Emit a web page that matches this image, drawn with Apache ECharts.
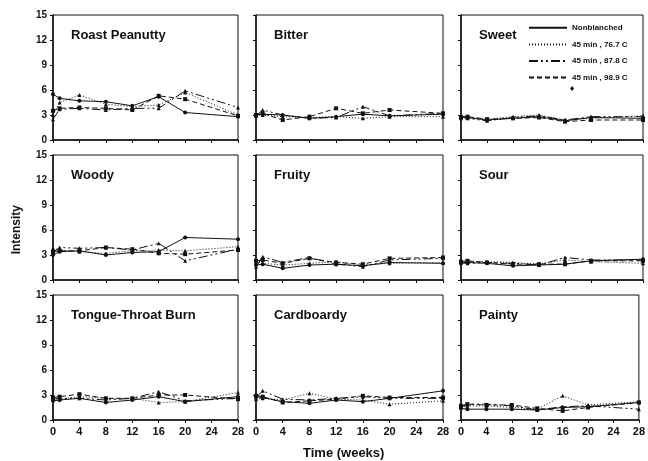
<!DOCTYPE html>
<html>
<head>
<meta charset="utf-8">
<script src="https://cdn.jsdelivr.net/npm/echarts@6/dist/echarts.min.js"></script>
<style>
    html, body { margin: 0; padding: 0; background: #fff; }
    #chart { width: 648px; height: 461px; }
</style>
</head>
<body>
<div id="chart"></div>
<script>
    // sampling times (weeks)
    const weeks = [0, 1, 4, 8, 12, 16, 20, 28];
    const xTicks = [0, 4, 8, 12, 16, 20, 24, 28];
    const yTicks = [0, 3, 6, 9, 12, 15];

    const treatments = ['Nonblanched', '45 min , 76.7 C', '45 min , 87.8 C', '45 min , 98.9 C'];
    const attributes = ['Roast Peanutty', 'Bitter', 'Sweet', 'Woody', 'Fruity', 'Sour',
        'Tongue-Throat Burn', 'Cardboardy', 'Painty'];

    // each: [nonblanched, 76.7 C, 87.8 C, 98.9 C]
    const roastPeanutty = [
        [5.5, 5.0, 4.7, 4.6, 4.1, 5.2, 3.3, 2.8],
        [3.0, 4.5, 5.4, 4.3, 4.0, 4.2, 5.7, 3.0],
        [2.5, 3.7, 3.8, 3.6, 3.8, 3.8, 5.9, 3.9],
        [3.5, 3.8, 3.9, 3.8, 3.6, 5.3, 4.9, 2.9]
    ];
    const bitter = [
        [3.0, 3.1, 3.0, 2.6, 2.8, 3.1, 2.9, 3.1],
        [3.0, 3.0, 2.8, 2.7, 2.8, 2.6, 2.8, 2.8],
        [2.9, 3.6, 3.0, 2.6, 2.7, 4.0, 2.9, 3.2],
        [3.0, 3.2, 2.4, 2.8, 3.8, 3.2, 3.6, 3.2]
    ];
    const sweet = [
        [2.8, 2.7, 2.4, 2.6, 2.8, 2.3, 2.7, 2.6],
        [2.6, 2.7, 2.5, 2.8, 3.0, 2.4, 2.6, 2.9],
        [2.9, 2.6, 2.3, 2.7, 2.9, 2.4, 2.8, 2.8],
        [2.7, 2.8, 2.5, 2.6, 2.7, 2.2, 2.4, 2.4]
    ];
    const woody = [
        [3.0, 3.4, 3.5, 3.0, 3.3, 3.4, 5.1, 4.9],
        [3.8, 3.6, 3.4, 3.2, 3.5, 3.6, 3.5, 4.0],
        [3.3, 3.9, 3.8, 3.9, 3.6, 4.4, 2.3, 3.7],
        [3.4, 3.5, 3.5, 3.9, 3.7, 3.2, 3.1, 3.6]
    ];
    const fruity = [
        [1.8, 1.9, 1.4, 1.8, 1.9, 1.7, 2.1, 2.0],
        [2.2, 2.0, 1.8, 2.0, 2.2, 1.8, 2.0, 2.1],
        [1.6, 2.8, 2.1, 2.7, 1.9, 1.6, 2.4, 2.6],
        [2.3, 2.4, 2.0, 2.6, 2.1, 1.9, 2.6, 2.7]
    ];
    const sour = [
        [2.0, 2.1, 2.0, 1.7, 1.8, 1.9, 2.3, 2.5],
        [2.2, 2.2, 2.2, 2.1, 1.9, 2.4, 2.2, 2.0],
        [2.1, 2.0, 2.1, 2.0, 1.8, 2.7, 2.4, 2.4],
        [2.2, 2.3, 2.1, 1.9, 1.9, 1.9, 2.3, 2.3]
    ];
    const tongueBurn = [
        [2.3, 2.4, 2.6, 2.1, 2.4, 2.8, 2.2, 2.8],
        [2.6, 2.5, 2.8, 2.6, 2.6, 2.1, 2.2, 3.3],
        [2.5, 2.6, 2.6, 2.4, 2.6, 3.4, 2.3, 2.6],
        [2.7, 2.8, 3.1, 2.6, 2.6, 3.0, 3.0, 2.5]
    ];
    const cardboardy = [
        [2.8, 2.7, 2.2, 2.0, 2.4, 2.2, 2.6, 3.5],
        [2.5, 2.6, 2.4, 3.2, 2.5, 2.4, 1.9, 2.3],
        [2.7, 3.5, 2.5, 2.4, 2.6, 2.8, 2.6, 2.6],
        [2.9, 2.8, 2.1, 2.3, 2.5, 2.9, 2.7, 2.7]
    ];
    const painty = [
        [1.4, 1.3, 1.3, 1.3, 1.2, 1.5, 1.6, 2.1],
        [1.6, 1.7, 1.7, 1.5, 1.3, 2.9, 1.8, 2.2],
        [1.5, 1.9, 1.9, 1.7, 1.2, 1.6, 1.7, 1.3],
        [1.7, 1.9, 1.8, 1.8, 1.4, 1.1, 1.5, 2.1]
    ];
    const panelData = [roastPeanutty, bitter, sweet, woody, fruity, sour, tongueBurn, cardboardy, painty];

    const lineTypes = ['solid', [1, 2], [9, 3, 2, 3, 2, 3], [5, 3]];
    const symbols = ['circle', 'triangle', 'triangle', 'rect'];

    const colLeft = [53, 256, 461];
    const colWidth = [185, 187, 182];
    const rowTop = [15, 155, 295];
    const rowHeight = 125;
    const ink = '#111';

    let chart = echarts.init(document.getElementById('chart'));

    let grids = [], xAxes = [], yAxes = [], series = [], titles = [];
    attributes.forEach((name, i) => {
        let r = Math.floor(i / 3), c = i % 3;
        grids.push({
            left: colLeft[c], top: rowTop[r], width: colWidth[c], height: rowHeight,
            show: true, borderColor: ink, borderWidth: 1, containLabel: false
        });
        xAxes.push({
            type: 'value', gridIndex: i, min: 0, max: 28, interval: 4,
            axisLine: { show: true, lineStyle: { color: ink, width: 1.5 } },
            axisTick: { show: true, length: 3, lineStyle: { color: ink } },
            axisLabel: {
                show: r === 2, color: ink, fontWeight: 'bold', fontSize: 11,
                fontFamily: 'Liberation Sans', margin: 6
            },
            splitLine: { show: false }
        });
        yAxes.push({
            type: 'value', gridIndex: i, min: 0, max: 15, interval: 3,
            axisLine: { show: true, lineStyle: { color: ink, width: 1.5 } },
            axisTick: { show: true, length: 3, lineStyle: { color: ink } },
            axisLabel: {
                show: c === 0, color: ink, fontWeight: 'bold', fontSize: 10,
                fontFamily: 'Liberation Sans', margin: 6
            },
            splitLine: { show: false }
        });
        titles.push({
            text: name, left: colLeft[c] + 13, top: rowTop[r] + 9,
            textStyle: { color: ink, fontSize: 13, fontWeight: 'bold', fontFamily: 'Liberation Sans' }
        });
        panelData[i].forEach((vals, k) => {
            series.push({
                name: treatments[k], type: 'line', xAxisIndex: i, yAxisIndex: i,
                data: weeks.map((w, j) => [w, vals[j]]),
                symbol: symbols[k], symbolSize: 4, showSymbol: true,
                lineStyle: { color: ink, width: 1, type: lineTypes[k] },
                itemStyle: { color: ink },
                animation: false, silent: true
            });
        });
    });

    titles.push({
        text: 'Time (weeks)', left: 298, top: 442,
        textStyle: { color: ink, fontSize: 13, fontWeight: 'bold', fontFamily: 'Liberation Sans' }
    });

    let option = {
        backgroundColor: '#fff',
        animation: false,
        title: titles,
        grid: grids,
        xAxis: xAxes,
        yAxis: yAxes,
        legend: {
            data: treatments, orient: 'vertical', left: 523, top: 18,
            itemWidth: 38, itemHeight: 12, itemGap: 7,
            itemStyle: { opacity: 0 },
            textStyle: { color: ink, fontSize: 8, fontWeight: 'bold', fontFamily: 'Liberation Sans' },
            selectedMode: false
        },
        graphic: [{
            // the y-axis name is drawn rotated
            type: 'text', left: 11, top: 205, rotation: Math.PI / 2,
            style: { text: 'Intensity', fill: ink, font: 'bold 12px "Liberation Sans"' }
        }, {
            type: 'text', left: 569, top: 86,
            style: { text: '♦', fill: ink, font: '7px "DejaVu Sans"' }
        }],
        series: series
    };
    chart.setOption(option);
</script>
</body>
</html>
